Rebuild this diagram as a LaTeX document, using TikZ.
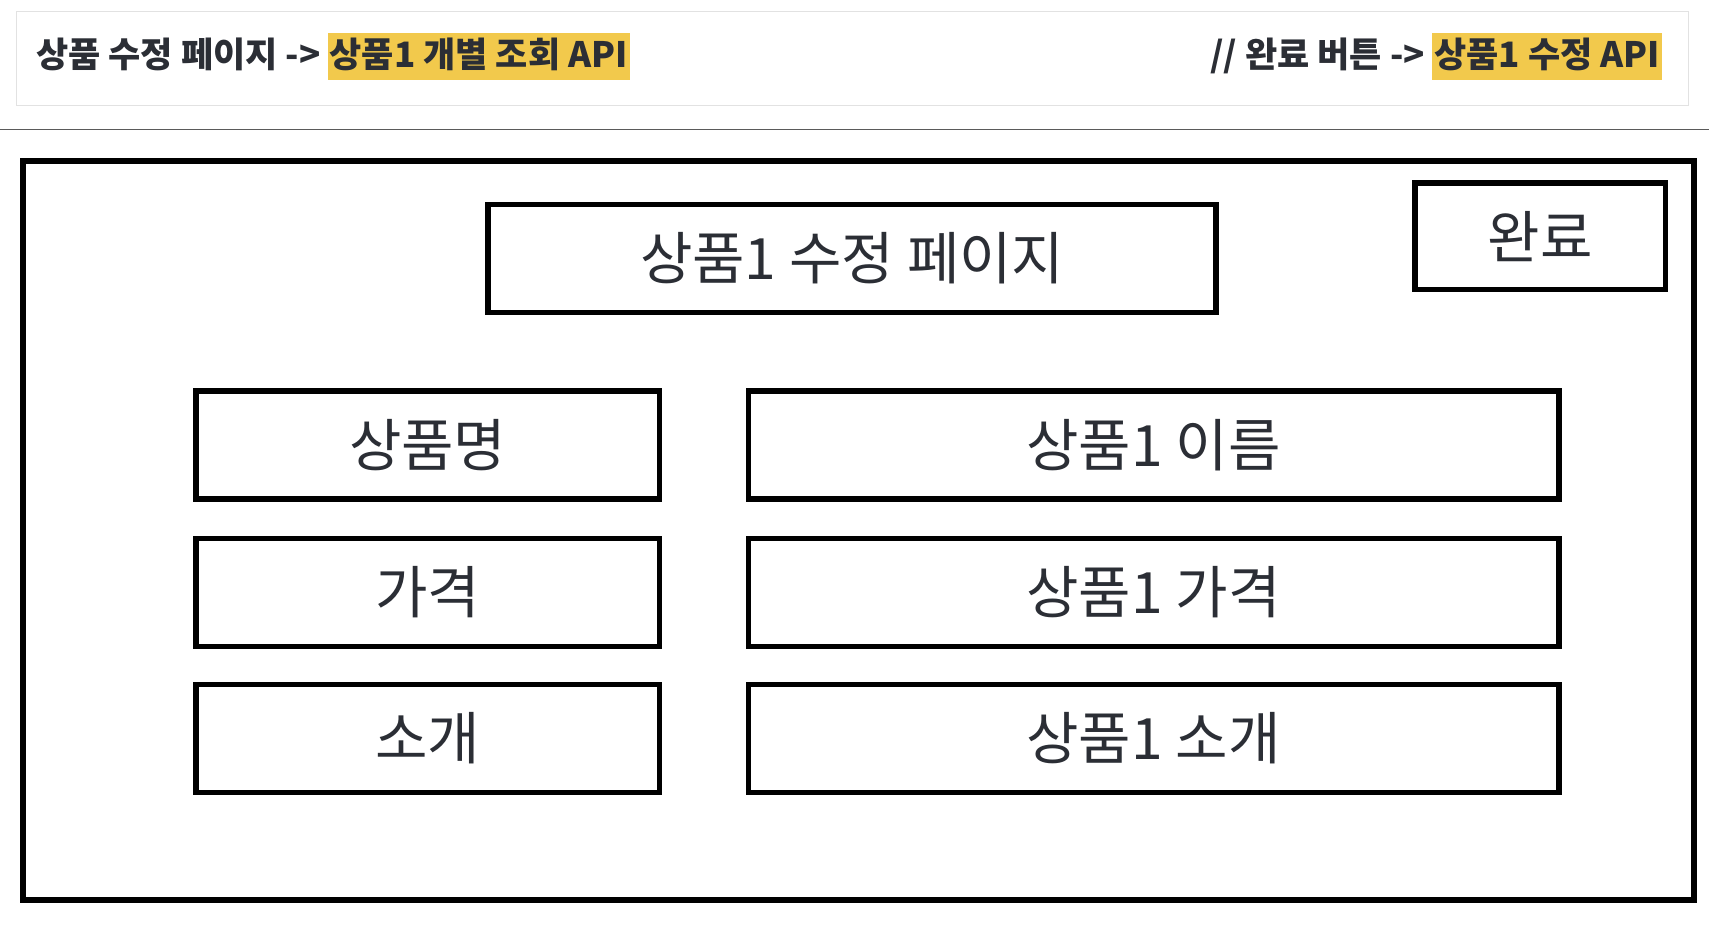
\documentclass[tikz,border=0pt]{standalone}
\usepackage{fontspec}
\setmainfont{Noto Sans CJK KR}
\definecolor{ink}{HTML}{2B2E35}
\definecolor{hlc}{HTML}{F2C94C}
\definecolor{hdrline}{HTML}{E2E2E2}
\definecolor{rulec}{HTML}{5A5A5A}
\begin{document}
\begin{tikzpicture}[x=1pt,y=-1pt,
  framebox/.style={draw=black,line width=6pt,inner sep=0pt},
  uibox/.style={draw=black,line width=5.5pt,minimum height=108pt,inner sep=0pt,font=\fontsize{57}{64}\selectfont,text=ink},
  headtxt/.style={font=\bfseries\fontsize{35}{42}\selectfont,text=ink,inner xsep=2pt,inner ysep=0pt,minimum height=47pt,text height=28pt,text depth=6pt},
  hltxt/.style={headtxt,fill=hlc}]
\useasboundingbox[fill=white] (0,0) rectangle (1722,928);
% header strip
\node[draw=hdrline,line width=1.2pt,minimum width=1672pt,minimum height=94pt,inner sep=0pt] (header) at (852.8,58.2) {};
\node[headtxt,anchor=west] (lt) at (34,56.5) {상품 수정 페이지 ->};
\node[hltxt,anchor=west] (lh) at ([xshift=5pt]lt.east) {상품1 개별 조회 API};
\node[hltxt,anchor=east] (rh) at (1662,56.5) {상품1 수정 API};
\node[headtxt,anchor=east] (rt) at ([xshift=-5pt]rh.west) {// 완료 버튼 ->};
% rule
\coordinate (r1) at (0,129.6);
\coordinate (r2) at (1709,129.6);
\draw[rulec,line width=1.6pt] (r1) -- (r2);
% main frame
\node[framebox,minimum width=1671pt,minimum height=738.5pt] (frame) at (858.3,530.5) {};
% boxes
\node[uibox,minimum width=728pt] (title) at (852.2,258.6) {상품1 수정 페이지};
\node[uibox,minimum width=250.4pt,minimum height=106.5pt] (done) at (1540.2,236.1) {완료};
\node[uibox,minimum width=463.4pt] (l1) at (427.7,444.8) {상품명};
\node[uibox,minimum width=463.4pt] (l2) at (427.7,592.5) {가격};
\node[uibox,minimum width=463.4pt] (l3) at (427.7,738.5) {소개};
\node[uibox,minimum width=810.5pt] (r1b) at (1153.6,444.8) {상품1 이름};
\node[uibox,minimum width=810.5pt] (r2b) at (1153.6,592.5) {상품1 가격};
\node[uibox,minimum width=810.5pt] (r3b) at (1153.6,738.5) {상품1 소개};
\end{tikzpicture}
\end{document}
